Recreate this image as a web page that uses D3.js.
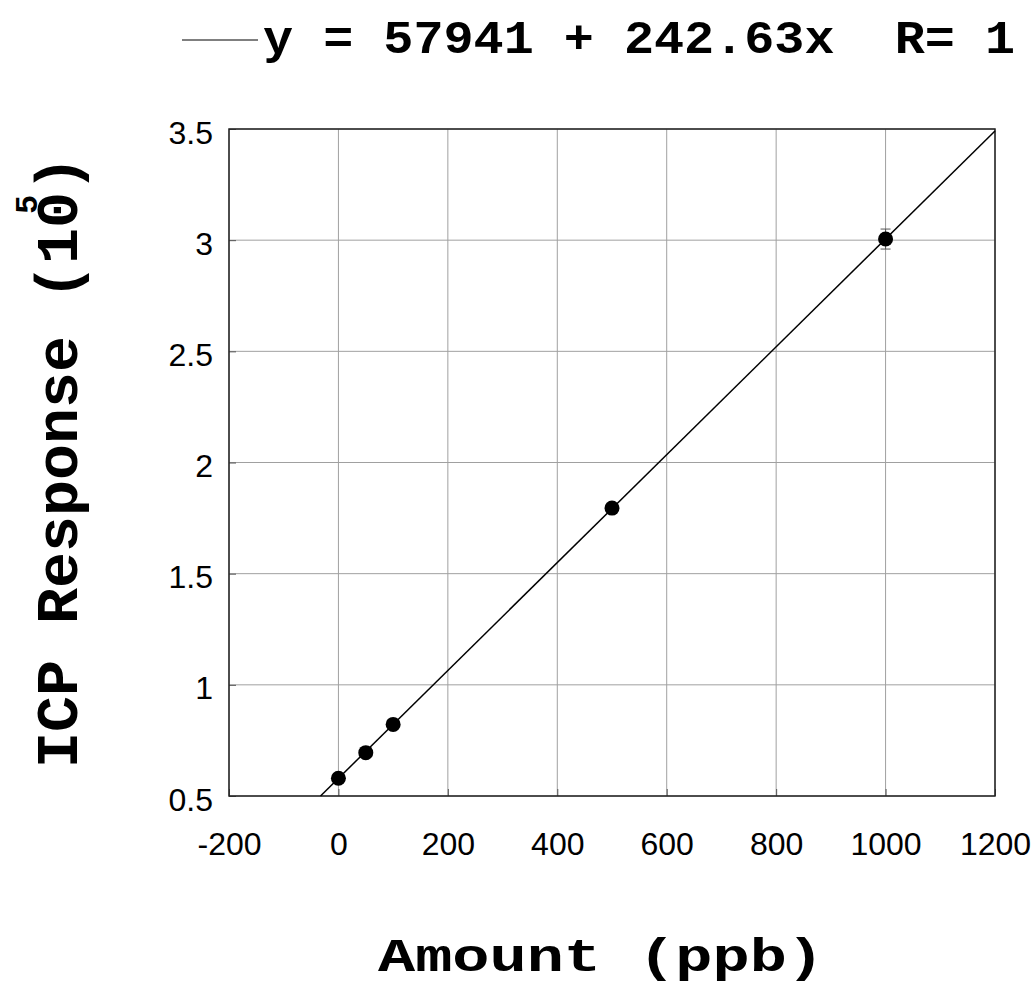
<!DOCTYPE html>
<html>
<head>
<meta charset="utf-8">
<script src="https://cdn.jsdelivr.net/npm/d3@7"></script>
<style>
  body { margin: 0; background: #fff; }
  svg { display: block; }
</style>
</head>
<body>
<div id="chart"></div>
<script>
// Data
const amounts = [0, 50, 100, 500, 1000];
const responses = [0.58, 0.695, 0.822, 1.795, 3.005];
const errors = [0.012, 0.012, 0.012, 0.015, 0.045];
const xTicks = [-200, 0, 200, 400, 600, 800, 1000, 1200];
const yTicks = [0.5, 1, 1.5, 2, 2.5, 3, 3.5];
const fitIntercept = 57941;
const fitSlope = 242.63;
const yUnit = 1e5;

// Plot constants
const MARGIN = { LEFT: 229, RIGHT: 41, TOP: 129, BOTTOM: 189 };
const W = 1036, H = 985;
const WIDTH = W - MARGIN.LEFT - MARGIN.RIGHT;
const HEIGHT = H - MARGIN.TOP - MARGIN.BOTTOM;
const MONO = "'Liberation Mono', 'DejaVu Sans Mono', monospace";
const SANS = "'Liberation Sans', Arial, sans-serif";

const svg = d3.select("#chart").append("svg")
  .attr("width", W)
  .attr("height", H);

const g = svg.append("g")
  .attr("transform", "translate(" + MARGIN.LEFT + "," + MARGIN.TOP + ")");

const x = d3.scaleLinear().domain([-200, 1200]).range([0, WIDTH]);
const y = d3.scaleLinear().domain([0.5, 3.5]).range([HEIGHT, 0]);

// Grid
g.append("g").selectAll("line").data(xTicks).join("line")
  .attr("x1", d => x(d)).attr("x2", d => x(d))
  .attr("y1", 0).attr("y2", HEIGHT)
  .attr("stroke", "#a0a0a0").attr("stroke-width", 1);
g.append("g").selectAll("line").data(yTicks).join("line")
  .attr("x1", 0).attr("x2", WIDTH)
  .attr("y1", d => y(d)).attr("y2", d => y(d))
  .attr("stroke", "#a0a0a0").attr("stroke-width", 1);

// Axes (ticks inward, labels outside)
const xAxis = g.append("g")
  .attr("transform", "translate(0," + HEIGHT + ")")
  .call(d3.axisBottom(x).tickValues(xTicks).tickSize(-7).tickPadding(59).tickFormat(d => String(d)));
const yAxis = g.append("g")
  .call(d3.axisLeft(y).tickValues(yTicks).tickSize(-7).tickPadding(16).tickFormat(d => String(d)));

[xAxis, yAxis].forEach(a => {
  a.select(".domain").remove();
  a.selectAll(".tick line").attr("stroke", "#555");
  a.selectAll("text")
    .style("font-family", SANS)
    .style("font-size", "32px")
    .attr("fill", "#000");
});
xAxis.selectAll("text").attr("dy", "0");
yAxis.selectAll("text").attr("dy", "14px");

// Frame
g.append("rect")
  .attr("width", WIDTH).attr("height", HEIGHT)
  .attr("fill", "none").attr("stroke", "#222").attr("stroke-width", 1.5);

// Fit line clipped to plot area
const xStart = (y.domain()[0] * yUnit - fitIntercept) / fitSlope;
const xEnd = x.domain()[1];
const fitPts = [xStart, xEnd].map(a => [a, (fitIntercept + fitSlope * a) / yUnit]);
g.append("path")
  .datum(fitPts)
  .attr("fill", "none")
  .attr("stroke", "#000")
  .attr("stroke-width", 1.5)
  .attr("d", d3.line().x(d => x(d[0])).y(d => y(d[1])));

// Error bars
const pts = amounts.map((a, i) => ({ a, r: responses[i], e: errors[i] }));
const eb = g.append("g").selectAll("g").data(pts).join("g").attr("stroke", "#555").attr("stroke-width", 1);
eb.append("line")
  .attr("x1", d => x(d.a)).attr("x2", d => x(d.a))
  .attr("y1", d => y(d.r - d.e)).attr("y2", d => y(d.r + d.e));
eb.append("line")
  .attr("x1", d => x(d.a) - 5).attr("x2", d => x(d.a) + 5)
  .attr("y1", d => y(d.r + d.e)).attr("y2", d => y(d.r + d.e));
eb.append("line")
  .attr("x1", d => x(d.a) - 5).attr("x2", d => x(d.a) + 5)
  .attr("y1", d => y(d.r - d.e)).attr("y2", d => y(d.r - d.e));

// Points
g.append("g").selectAll("circle").data(pts).join("circle")
  .attr("cx", d => x(d.a))
  .attr("cy", d => y(d.r))
  .attr("r", 7.5)
  .attr("fill", "#000");

// Legend / fit equation
svg.append("line")
  .attr("x1", 182).attr("x2", 258)
  .attr("y1", 40).attr("y2", 40)
  .attr("stroke", "#000").attr("stroke-width", 1);
svg.append("text")
  .attr("x", 263).attr("y", 53)
  .attr("textLength", 752)
  .attr("lengthAdjust", "spacingAndGlyphs")
  .style("font-family", MONO)
  .style("font-weight", "bold")
  .style("font-size", "47px")
  .style("white-space", "pre")
  .text("y = " + fitIntercept + " + " + fitSlope + "x  R= 1");

// X label
svg.append("text")
  .attr("x", 378).attr("y", 971)
  .attr("textLength", 446)
  .attr("lengthAdjust", "spacingAndGlyphs")
  .style("font-family", MONO)
  .style("font-weight", "bold")
  .style("font-size", "47px")
  .style("white-space", "pre")
  .text("Amount (ppb)");

// Y label with superscript
const yl = svg.append("text")
  .attr("transform", "translate(77,768) rotate(-90)")
  .style("font-family", MONO)
  .style("font-weight", "bold")
  .style("font-size", "60px")
  .style("white-space", "pre");
yl.append("tspan").text("ICP Response (10");
yl.append("tspan").attr("dx", -22).attr("dy", -40).style("font-size", "32px").text("5");
yl.append("tspan").attr("dx", 3).attr("dy", 40).text(")");
</script>
</body>
</html>
